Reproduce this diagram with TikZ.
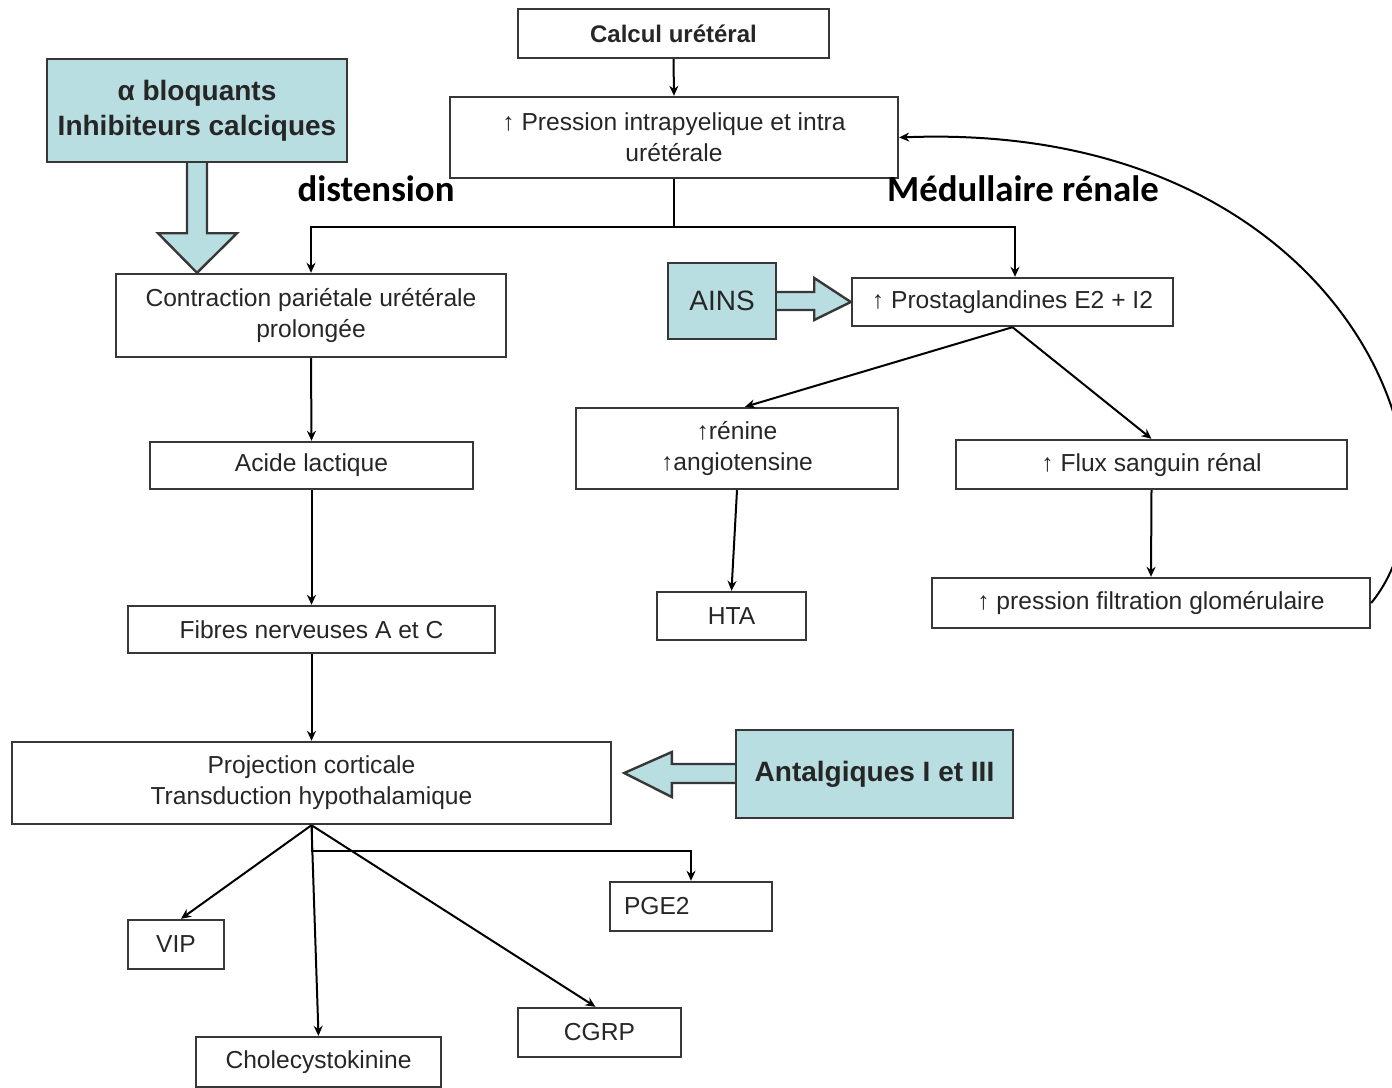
\documentclass[tikz,border=0pt]{standalone}
\usepackage{fontspec}
\setmainfont{Liberation Sans}
\newfontfamily\labelfont{Carlito}
\usetikzlibrary{arrows.meta,calc}

\definecolor{boxline}{RGB}{55,55,55}
\definecolor{drugfill}{RGB}{184,222,225}

\begin{document}
\begin{tikzpicture}[x=0.5pt,y=-0.5pt,->,>={Stealth[length=5pt,width=4.5pt]},line width=1pt,
    box/.style={rectangle,draw=boxline,line width=1.2pt,align=center,
      inner sep=2pt,text=black!85,font=\fontsize{12.3}{15.5}\selectfont},
    drug/.style={box,fill=drugfill,font=\fontsize{14}{17.5}\selectfont\bfseries},
    bigarrow/.style={-,draw=boxline,line width=1.2pt,fill=drugfill,line join=miter},
    lbl/.style={font=\labelfont\fontsize{18.4}{22}\selectfont\bfseries}]

  \useasboundingbox (0,0) rectangle (1392,1087);
  \clip (0,0) rectangle (1392,1087);

  % top of the chart
  \node[box,minimum width=155.5pt,minimum height=24.5pt,
        font=\fontsize{12}{15}\selectfont\bfseries] (calc) at (673.5,33.5) {Calcul urétéral};
  \node[box,minimum width=224pt,minimum height=40.5pt] (press) at (674,137.5)
        {↑ Pression intrapyelique et intra\\urétérale};
  \node[drug,minimum width=150pt,minimum height=51.5pt] (alpha) at (197,110.5)
        {α bloquants\\Inhibiteurs calciques};
  \node[lbl] (dist) at (376,189) {distension};
  \node[lbl] (medul) at (1023,189) {Médullaire rénale};

  % left branch
  \node[box,minimum width=195pt,minimum height=41.5pt] (contr) at (311,315.5)
        {Contraction pariétale urétérale\\prolongée};
  \node[box,minimum width=161.5pt,minimum height=23.5pt] (acide) at (311.5,465.5) {Acide lactique};
  \node[box,minimum width=183.5pt,minimum height=23.5pt] (fibres) at (311.5,629.5) {Fibres nerveuses A et C};
  \node[box,minimum width=299.5pt,minimum height=41pt] (proj) at (311.5,783)
        {Projection corticale\\Transduction hypothalamique};
  \node[drug,minimum width=138.5pt,minimum height=44pt] (antal) at (874.5,774) {Antalgiques I et III};

  % right branch
  \node[drug,minimum width=54pt,minimum height=38pt,font=\fontsize{14}{17.5}\selectfont] (ains) at (722,301) {AINS};
  \node[box,minimum width=160.5pt,minimum height=24pt] (prosta) at (1012.5,302) {↑ Prostaglandines E2 + I2};
  \node[box,minimum width=161pt,minimum height=40.5pt] (renine) at (737,448.5) {↑rénine\\↑angiotensine};
  \node[box,minimum width=195.5pt,minimum height=24.5pt] (flux) at (1151.5,464.5) {↑ Flux sanguin rénal};
  \node[box,minimum width=74.5pt,minimum height=24pt] (hta) at (731.5,616) {HTA};
  \node[box,minimum width=219pt,minimum height=25pt] (filtr) at (1151,603) {↑ pression filtration glomérulaire};

  % mediators
  \node[box,minimum width=48pt,minimum height=24.5pt] (vip) at (176,944.5) {VIP};
  \node[box,minimum width=122.5pt,minimum height=25pt] (chole) at (318.5,1062) {Cholecystokinine};
  \node[box,minimum width=81.5pt,minimum height=24.5pt] (cgrp) at (599.5,1032.5) {CGRP};
  \node[box,minimum height=24.5pt,inner xsep=7pt,text width=67pt,align=left] (pge) at (691,906.5) {PGE2};

  % block arrows
  \draw[bigarrow] ($(alpha.south)+(-10,0)$) -- ($(alpha.south)+(-10,70)$) -- ($(alpha.south)+(-39,70)$)
        -- (alpha.south |- contr.north) -- ($(alpha.south)+(40,70)$) -- ($(alpha.south)+(10,70)$)
        -- ($(alpha.south)+(10,0)$);
  \draw[bigarrow] ($(ains.east)+(0,-9)$) -- ($(ains.east)+(37,-9)$) -- ($(ains.east)+(37,-23)$)
        -- (prosta.west) -- ($(ains.east)+(37,19)$) -- ($(ains.east)+(37,9)$) -- ($(ains.east)+(0,9)$);
  \draw[bigarrow] ($(antal.west)+(0,-10)$) -- ($(antal.west)+(-63,-10)$) -- ($(antal.west)+(-63,-22)$)
        -- ($(proj.east)+(12,-10)$) -- ($(antal.west)+(-63,23)$) -- ($(antal.west)+(-63,9)$)
        -- ($(antal.west)+(0,9)$);

  % connectors
  \draw (calc.south) -- (press.north);
  \coordinate (split) at ($(press.south)+(0,48)$);
  \draw[-] (press.south) -- (split);
  \draw (split) -| (contr.north);
  \draw (split) -| ($(prosta.north)+(2.5,0)$);
  \draw (prosta.south) -- ($(renine.north)+(8,0)$);
  \draw (prosta.south) -- (flux.north);
  \draw (renine.south) -- (hta.north);
  \draw (flux.south) -- (filtr.north);
  \draw (filtr.east) .. controls (1480,470) and (1340,120) .. (press.east);

  \draw (contr.south) -- (acide.north);
  \draw (acide.south) -- (fibres.north);
  \draw (fibres.south) -- (proj.north);

  \draw (proj.south) -- ($(vip.north)+(5,0)$);
  \draw (proj.south) -- (chole.north);
  \draw (proj.south) -- ($(cgrp.north)+(-4,0)$);
  \draw (proj.south) |- ($(pge.north)+(0,-30)$) -- (pge.north);
\end{tikzpicture}
\end{document}
